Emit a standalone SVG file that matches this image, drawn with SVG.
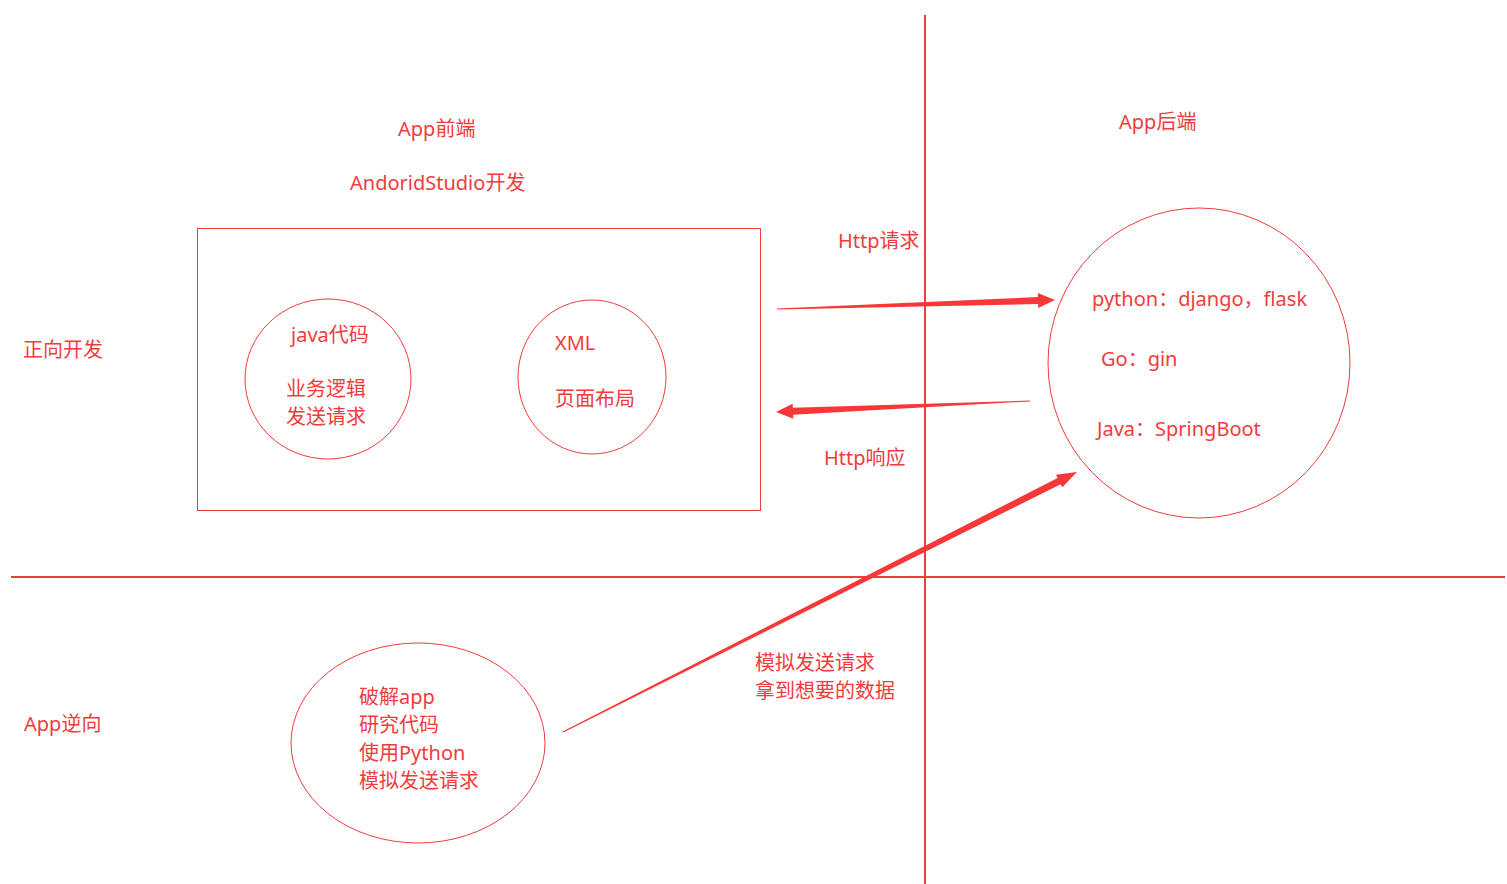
<svg xmlns="http://www.w3.org/2000/svg" width="1507" height="884" viewBox="0 0 1507 884">
<style>
.t{font-family:"Microsoft YaHei","Noto Sans","Noto Sans CJK SC",sans-serif;font-size:20px;fill:#f03c3c}
.s{fill:none;stroke:#f03c3c;stroke-width:1}
.ax{stroke:#f03c3c;stroke-width:2}
.ar{fill:#f83838}
</style>
<rect width="1507" height="884" fill="#fff"/>
<g id="axes">
<line class="ax" x1="925" y1="15" x2="925" y2="884"/>
<line class="ax" x1="11" y1="577" x2="1505" y2="577"/>
</g>
<g id="labels">
<text class="t" x="398" y="136">App前端</text>
<text class="t" x="350" y="190">AndoridStudio开发</text>
<text class="t" x="1119" y="129">App后端</text>
<text class="t" x="23" y="357">正向开发</text>
<text class="t" x="24" y="731">App逆向</text>
</g>
<g id="frontend">
<rect class="s" x="197.5" y="228.5" width="563" height="282"/>
</g>
<g id="java">
<ellipse class="s" cx="328" cy="379" rx="83" ry="80"/>
<text class="t" x="291" y="342">java代码</text>
<text class="t" x="286" y="396">业务逻辑</text>
<text class="t" x="286" y="424">发送请求</text>
</g>
<g id="xml">
<ellipse class="s" cx="592" cy="377" rx="74" ry="77"/>
<text class="t" x="555" y="350">XML</text>
<text class="t" x="555" y="406">页面布局</text>
</g>
<g id="backend">
<ellipse class="s" cx="1199" cy="363" rx="151" ry="155"/>
<text class="t" x="1092" y="306">python：django，flask</text>
<text class="t" x="1101" y="366">Go：gin</text>
<text class="t" x="1097" y="436">Java：SpringBoot</text>
</g>
<g id="reverse">
<ellipse class="s" cx="418" cy="743" rx="127" ry="100"/>
<text class="t" x="359" y="704">破解app</text>
<text class="t" x="359" y="732">研究代码</text>
<text class="t" x="359" y="760">使用Python</text>
<text class="t" x="359" y="788">模拟发送请求</text>
</g>
<g id="connectors">
<polygon class="ar" points="777,308.5 1037.9,297 1037.8,293 1055,300 1038.2,308 1038.1,304 777,309.5"/>
<text class="t" x="838" y="248">Http请求</text>
<polygon class="ar" points="1030,400.6 792.85,407.8 792.7,403.8 776,412 793.3,418.8 793.15,414.8 1030,401.4"/>
<text class="t" x="824" y="465">Http响应</text>
<polygon class="ar" points="562.7,731.5 1057.6,477.9 1056,474.8 1077,472 1062.3,487.3 1060.7,484.2 563.3,732.5"/>
<text class="t" x="755" y="670">模拟发送请求</text>
<text class="t" x="755" y="698">拿到想要的数据</text>
</g>
</svg>
